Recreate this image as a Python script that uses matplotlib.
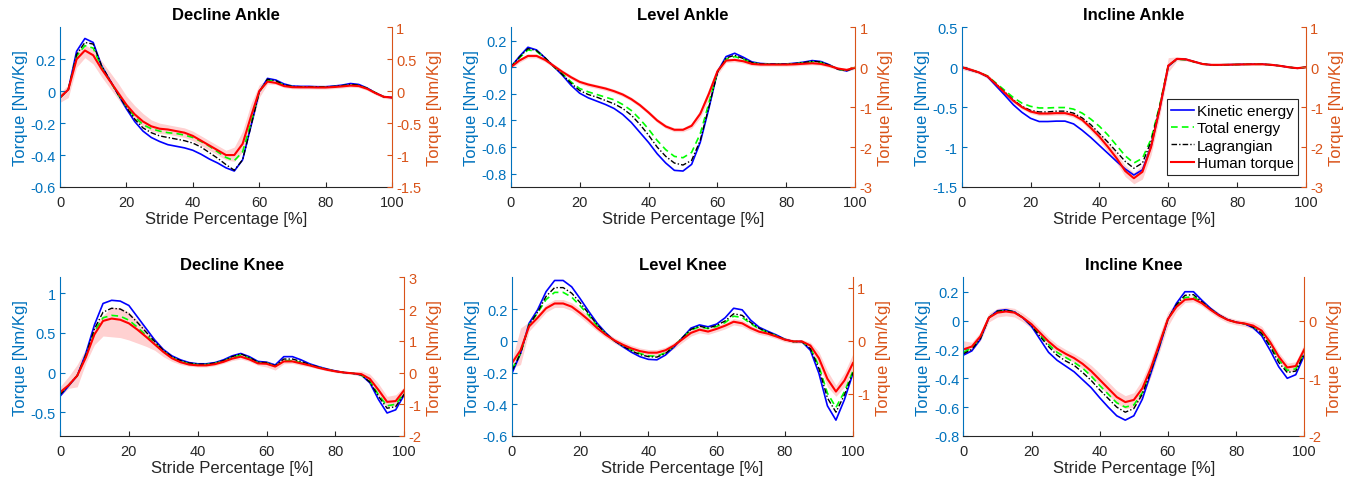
import numpy as np
import matplotlib
matplotlib.use('Agg')
import matplotlib.pyplot as plt
from matplotlib.ticker import FormatStrFormatter

plt.rcParams['font.family'] = ['Liberation Sans', 'DejaVu Sans']
plt.rcParams['axes.unicode_minus'] = False

# stride percentage grid (every 2.5 %)
STRIDE = np.arange(0, 100.1, 2.5)

# ---- Decline Ankle ----
DA_KE = [-0.04, 0.01, 0.25, 0.33, 0.305, 0.16, 0.07, -0.02, -0.11, -0.19, -0.25, -0.29, -0.315, -0.335, -0.345,
         -0.355, -0.37, -0.395, -0.425, -0.45, -0.48, -0.50, -0.43, -0.22, -0.005, 0.08, 0.07, 0.045, 0.032, 0.03,
         0.03, 0.028, 0.028, 0.032, 0.038, 0.048, 0.042, 0.02, -0.01, -0.035, -0.04]
DA_TE = [-0.04, 0.01, 0.22, 0.285, 0.27, 0.15, 0.065, -0.02, -0.095, -0.16, -0.21, -0.235, -0.25, -0.26, -0.265,
         -0.275, -0.29, -0.315, -0.345, -0.38, -0.415, -0.435, -0.38, -0.20, -0.005, 0.07, 0.06, 0.038, 0.028, 0.026,
         0.026, 0.025, 0.025, 0.028, 0.033, 0.04, 0.036, 0.017, -0.01, -0.035, -0.04]
DA_LAG = [-0.04, 0.01, 0.23, 0.305, 0.295, 0.16, 0.07, -0.02, -0.10, -0.175, -0.23, -0.26, -0.28, -0.29, -0.30,
          -0.31, -0.325, -0.35, -0.385, -0.42, -0.46, -0.495, -0.43, -0.22, -0.005, 0.075, 0.065, 0.04, 0.03, 0.028,
          0.028, 0.027, 0.027, 0.03, 0.035, 0.043, 0.038, 0.018, -0.01, -0.035, -0.04]
DA_HUM = [-0.04, 0.01, 0.20, 0.255, 0.225, 0.14, 0.065, -0.01, -0.085, -0.145, -0.19, -0.22, -0.235, -0.24, -0.25,
          -0.26, -0.28, -0.31, -0.34, -0.37, -0.40, -0.40, -0.33, -0.16, 0.0, 0.06, 0.052, 0.032, 0.025, 0.024,
          0.024, 0.023, 0.023, 0.026, 0.03, 0.035, 0.032, 0.015, -0.012, -0.035, -0.04]
DA_LO = [-0.07, -0.04, 0.15, 0.21, 0.17, 0.09, 0.02, -0.05, -0.12, -0.18, -0.22, -0.25, -0.265, -0.27, -0.28,
         -0.29, -0.31, -0.34, -0.37, -0.40, -0.43, -0.44, -0.38, -0.23, -0.04, 0.045, 0.042, 0.022, 0.015, 0.014,
         0.014, 0.013, 0.013, 0.016, 0.02, 0.025, 0.022, 0.005, -0.022, -0.045, -0.05]
DA_HI = [-0.01, 0.04, 0.25, 0.29, 0.26, 0.19, 0.12, 0.05, -0.03, -0.09, -0.14, -0.18, -0.20, -0.21, -0.22,
         -0.23, -0.25, -0.28, -0.31, -0.34, -0.37, -0.35, -0.25, -0.08, 0.04, 0.075, 0.062, 0.042, 0.035, 0.034,
         0.034, 0.033, 0.033, 0.036, 0.04, 0.045, 0.042, 0.025, -0.002, -0.025, -0.03]

# ---- Level Ankle ----
LA_KE = [0.0, 0.08, 0.15, 0.13, 0.07, 0.005, -0.06, -0.135, -0.195, -0.23, -0.255, -0.28, -0.31, -0.355, -0.415,
         -0.49, -0.565, -0.65, -0.72, -0.775, -0.78, -0.73, -0.565, -0.31, -0.035, 0.08, 0.105, 0.075, 0.04, 0.028,
         0.025, 0.025, 0.025, 0.03, 0.038, 0.05, 0.043, 0.018, -0.015, -0.028, -0.003]
LA_TE = [0.0, 0.07, 0.13, 0.12, 0.065, 0.005, -0.05, -0.11, -0.16, -0.185, -0.205, -0.225, -0.245, -0.28, -0.325,
         -0.39, -0.465, -0.55, -0.62, -0.67, -0.68, -0.64, -0.50, -0.27, -0.035, 0.06, 0.08, 0.06, 0.033, 0.024,
         0.022, 0.022, 0.022, 0.026, 0.033, 0.04, 0.036, 0.014, -0.015, -0.025, -0.003]
LA_LAG = [0.0, 0.075, 0.14, 0.125, 0.07, 0.005, -0.055, -0.12, -0.175, -0.205, -0.225, -0.25, -0.275, -0.31, -0.36,
          -0.43, -0.51, -0.60, -0.67, -0.72, -0.735, -0.70, -0.55, -0.30, -0.04, 0.07, 0.09, 0.065, 0.035, 0.025,
          0.023, 0.023, 0.023, 0.028, 0.035, 0.045, 0.04, 0.015, -0.015, -0.025, -0.003]
LA_HUM = [0.0, 0.05, 0.085, 0.085, 0.055, 0.01, -0.035, -0.075, -0.11, -0.13, -0.145, -0.16, -0.18, -0.205, -0.24,
          -0.285, -0.34, -0.40, -0.445, -0.47, -0.47, -0.44, -0.35, -0.20, -0.03, 0.05, 0.055, 0.045, 0.025, 0.02,
          0.02, 0.02, 0.02, 0.022, 0.026, 0.03, 0.025, 0.01, -0.01, -0.02, -0.003]
LA_LO = [-0.015, 0.035, 0.07, 0.07, 0.04, -0.005, -0.05, -0.09, -0.125, -0.145, -0.16, -0.175, -0.195, -0.22, -0.255,
         -0.30, -0.355, -0.415, -0.46, -0.485, -0.485, -0.46, -0.38, -0.24, -0.06, 0.035, 0.04, 0.03, 0.012, 0.008,
         0.008, 0.008, 0.008, 0.01, 0.014, 0.018, 0.013, -0.002, -0.022, -0.032, -0.015]
LA_HI = [0.015, 0.065, 0.10, 0.10, 0.07, 0.025, -0.02, -0.06, -0.095, -0.115, -0.13, -0.145, -0.165, -0.19, -0.225,
         -0.27, -0.325, -0.385, -0.43, -0.455, -0.455, -0.42, -0.32, -0.16, 0.0, 0.065, 0.07, 0.06, 0.038, 0.032,
         0.032, 0.032, 0.032, 0.034, 0.038, 0.042, 0.037, 0.022, 0.002, -0.008, 0.01]

# ---- Incline Ankle ----
IA_KE = [0.0, -0.035, -0.065, -0.12, -0.235, -0.35, -0.47, -0.565, -0.64, -0.68, -0.68, -0.675, -0.675, -0.71, -0.79,
         -0.88, -0.98, -1.08, -1.18, -1.275, -1.35, -1.285, -0.99, -0.52, 0.01, 0.105, 0.10, 0.07, 0.04, 0.03,
         0.03, 0.032, 0.035, 0.037, 0.038, 0.038, 0.03, 0.017, 0.0, -0.013, 0.0]
IA_TE = [0.0, -0.03, -0.065, -0.11, -0.20, -0.29, -0.38, -0.45, -0.49, -0.51, -0.51, -0.505, -0.505, -0.525, -0.575,
         -0.65, -0.74, -0.85, -0.98, -1.11, -1.20, -1.14, -0.90, -0.48, 0.02, 0.10, 0.095, 0.068, 0.04, 0.03,
         0.03, 0.032, 0.034, 0.036, 0.037, 0.037, 0.03, 0.017, 0.0, -0.012, 0.0]
IA_LAG = [0.0, -0.03, -0.065, -0.115, -0.21, -0.31, -0.41, -0.49, -0.54, -0.56, -0.56, -0.55, -0.55, -0.575, -0.635,
          -0.72, -0.83, -0.94, -1.06, -1.18, -1.265, -1.20, -0.93, -0.49, 0.02, 0.10, 0.095, 0.068, 0.04, 0.03,
          0.03, 0.032, 0.034, 0.036, 0.037, 0.037, 0.03, 0.017, 0.0, -0.012, 0.0]
IA_HUM = [0.0, -0.03, -0.065, -0.115, -0.215, -0.32, -0.42, -0.50, -0.555, -0.58, -0.58, -0.575, -0.575, -0.60, -0.66,
          -0.76, -0.87, -1.0, -1.14, -1.30, -1.39, -1.31, -1.0, -0.52, 0.02, 0.105, 0.10, 0.07, 0.04, 0.03,
          0.03, 0.032, 0.034, 0.036, 0.037, 0.037, 0.03, 0.017, 0.0, -0.012, 0.0]
IA_LO = [-0.03, -0.055, -0.085, -0.14, -0.24, -0.345, -0.445, -0.525, -0.58, -0.605, -0.605, -0.60, -0.60, -0.63, -0.69,
         -0.80, -0.92, -1.06, -1.20, -1.37, -1.46, -1.40, -1.10, -0.62, -0.06, 0.08, 0.08, 0.055, 0.028, 0.02,
         0.02, 0.022, 0.024, 0.026, 0.027, 0.027, 0.02, 0.007, -0.01, -0.022, -0.01]
IA_HI = [0.03, -0.005, -0.045, -0.09, -0.19, -0.295, -0.395, -0.475, -0.53, -0.555, -0.555, -0.55, -0.55, -0.57, -0.63,
         -0.72, -0.82, -0.94, -1.08, -1.23, -1.32, -1.22, -0.90, -0.42, 0.12, 0.13, 0.12, 0.085, 0.052, 0.04,
         0.04, 0.042, 0.044, 0.046, 0.047, 0.047, 0.04, 0.027, 0.01, -0.002, 0.01]

# ---- Decline Knee ----
DK_KE = [-0.30, -0.17, -0.04, 0.24, 0.60, 0.87, 0.91, 0.90, 0.845, 0.70, 0.555, 0.41, 0.29, 0.21, 0.16,
         0.125, 0.11, 0.11, 0.125, 0.16, 0.21, 0.24, 0.20, 0.14, 0.13, 0.095, 0.20, 0.20, 0.16, 0.11,
         0.075, 0.045, 0.02, 0.0, -0.01, -0.03, -0.13, -0.34, -0.51, -0.47, -0.28]
DK_TE = [-0.27, -0.16, -0.04, 0.21, 0.52, 0.69, 0.72, 0.71, 0.66, 0.57, 0.47, 0.37, 0.27, 0.19, 0.14,
         0.11, 0.10, 0.10, 0.115, 0.145, 0.19, 0.22, 0.18, 0.125, 0.12, 0.08, 0.15, 0.15, 0.125, 0.095,
         0.065, 0.04, 0.015, 0.0, -0.01, -0.03, -0.11, -0.28, -0.42, -0.40, -0.26]
DK_LAG = [-0.28, -0.16, -0.04, 0.22, 0.55, 0.76, 0.81, 0.80, 0.74, 0.63, 0.51, 0.39, 0.28, 0.20, 0.15,
          0.12, 0.105, 0.105, 0.12, 0.15, 0.20, 0.235, 0.19, 0.13, 0.125, 0.085, 0.17, 0.17, 0.14, 0.10,
          0.07, 0.04, 0.015, 0.0, -0.01, -0.03, -0.12, -0.30, -0.45, -0.43, -0.27]
DK_HUM = [-0.25, -0.16, -0.04, 0.19, 0.48, 0.65, 0.68, 0.665, 0.62, 0.54, 0.45, 0.355, 0.26, 0.18, 0.13,
          0.10, 0.09, 0.09, 0.105, 0.135, 0.175, 0.20, 0.165, 0.115, 0.11, 0.075, 0.14, 0.14, 0.115, 0.09,
          0.06, 0.035, 0.015, 0.0, -0.01, -0.02, -0.08, -0.22, -0.37, -0.36, -0.22]
DK_LO = [-0.30, -0.20, -0.18, 0.12, 0.35, 0.46, 0.45, 0.44, 0.41, 0.37, 0.33, 0.28, 0.20, 0.14, 0.10,
         0.08, 0.07, 0.07, 0.085, 0.115, 0.15, 0.17, 0.14, 0.09, 0.07, 0.03, 0.11, 0.115, 0.09, 0.07,
         0.045, 0.02, 0.0, -0.015, -0.025, -0.05, -0.14, -0.30, -0.43, -0.42, -0.25]
DK_HI = [-0.18, -0.05, 0.10, 0.30, 0.60, 0.72, 0.82, 0.82, 0.76, 0.66, 0.55, 0.43, 0.31, 0.22, 0.16,
         0.125, 0.11, 0.11, 0.125, 0.155, 0.20, 0.23, 0.20, 0.14, 0.15, 0.11, 0.17, 0.165, 0.14, 0.11,
         0.075, 0.05, 0.03, 0.015, 0.01, 0.02, -0.02, -0.14, -0.30, -0.28, -0.18]

# ---- Level Knee ----
LK_KE = [-0.205, -0.08, 0.11, 0.195, 0.31, 0.38, 0.38, 0.34, 0.265, 0.185, 0.11, 0.05, 0.0, -0.037, -0.072,
         -0.10, -0.117, -0.12, -0.09, -0.04, 0.02, 0.08, 0.10, 0.088, 0.105, 0.145, 0.205, 0.195, 0.13, 0.085,
         0.06, 0.037, 0.01, -0.005, -0.005, -0.06, -0.205, -0.41, -0.50, -0.37, -0.205]
LK_TE = [-0.18, -0.08, 0.10, 0.175, 0.26, 0.305, 0.305, 0.275, 0.22, 0.16, 0.095, 0.043, 0.0, -0.03, -0.058,
         -0.08, -0.095, -0.097, -0.075, -0.033, 0.018, 0.068, 0.088, 0.077, 0.09, 0.115, 0.155, 0.147, 0.108, 0.075,
         0.053, 0.032, 0.008, -0.005, -0.005, -0.045, -0.16, -0.33, -0.42, -0.32, -0.19]
LK_LAG = [-0.19, -0.08, 0.10, 0.18, 0.28, 0.335, 0.335, 0.30, 0.24, 0.17, 0.10, 0.045, 0.0, -0.033, -0.063,
          -0.087, -0.10, -0.103, -0.08, -0.035, 0.02, 0.072, 0.092, 0.08, 0.097, 0.125, 0.17, 0.16, 0.115, 0.078,
          0.055, 0.033, 0.008, -0.005, -0.005, -0.05, -0.175, -0.36, -0.45, -0.34, -0.20]
LK_HUM = [-0.14, -0.06, 0.09, 0.145, 0.205, 0.235, 0.235, 0.215, 0.175, 0.13, 0.08, 0.038, 0.003, -0.025, -0.048,
          -0.065, -0.075, -0.075, -0.06, -0.03, 0.01, 0.05, 0.07, 0.058, 0.075, 0.095, 0.12, 0.11, 0.08, 0.057,
          0.045, 0.027, 0.007, -0.004, -0.004, -0.03, -0.11, -0.24, -0.32, -0.25, -0.14]
LK_LO = [-0.17, -0.15, 0.06, 0.12, 0.18, 0.21, 0.21, 0.19, 0.15, 0.105, 0.06, 0.02, -0.015, -0.045, -0.068,
         -0.085, -0.095, -0.095, -0.08, -0.05, -0.01, 0.03, 0.05, 0.04, 0.057, 0.075, 0.10, 0.09, 0.062, 0.04,
         0.03, 0.013, -0.007, -0.016, -0.016, -0.05, -0.15, -0.29, -0.35, -0.29, -0.19]
LK_HI = [-0.12, 0.08, 0.12, 0.17, 0.23, 0.26, 0.26, 0.24, 0.20, 0.155, 0.10, 0.056, 0.02, -0.005, -0.028,
         -0.045, -0.055, -0.055, -0.04, -0.01, 0.03, 0.07, 0.09, 0.076, 0.093, 0.115, 0.14, 0.13, 0.098, 0.074,
         0.06, 0.041, 0.021, 0.008, 0.008, -0.01, -0.07, -0.19, -0.28, -0.20, -0.08]

# ---- Incline Knee ----
IK_KE = [-0.24, -0.21, -0.13, 0.02, 0.068, 0.075, 0.06, 0.018, -0.04, -0.13, -0.22, -0.275, -0.315, -0.355, -0.41,
         -0.465, -0.535, -0.60, -0.66, -0.69, -0.66, -0.545, -0.365, -0.185, 0.007, 0.12, 0.20, 0.20, 0.14, 0.085,
         0.04, 0.007, -0.011, -0.022, -0.05, -0.105, -0.207, -0.32, -0.40, -0.375, -0.24]
IK_TE = [-0.22, -0.19, -0.12, 0.02, 0.062, 0.07, 0.058, 0.02, -0.03, -0.10, -0.165, -0.22, -0.255, -0.29, -0.33,
         -0.385, -0.45, -0.51, -0.57, -0.60, -0.585, -0.50, -0.34, -0.17, 0.01, 0.10, 0.16, 0.165, 0.125, 0.078,
         0.036, 0.005, -0.012, -0.022, -0.042, -0.085, -0.17, -0.27, -0.345, -0.335, -0.22]
IK_LAG = [-0.23, -0.20, -0.125, 0.02, 0.065, 0.072, 0.06, 0.02, -0.035, -0.11, -0.18, -0.24, -0.28, -0.31, -0.36,
          -0.415, -0.48, -0.54, -0.60, -0.635, -0.61, -0.51, -0.35, -0.175, 0.01, 0.11, 0.175, 0.18, 0.13, 0.08,
          0.038, 0.006, -0.012, -0.022, -0.045, -0.09, -0.18, -0.29, -0.36, -0.35, -0.23]
IK_HUM = [-0.20, -0.18, -0.11, 0.02, 0.055, 0.063, 0.055, 0.02, -0.025, -0.085, -0.145, -0.195, -0.23, -0.26, -0.30,
          -0.35, -0.41, -0.47, -0.53, -0.565, -0.55, -0.47, -0.33, -0.16, 0.01, 0.095, 0.145, 0.15, 0.12, 0.075,
          0.035, 0.005, -0.012, -0.02, -0.035, -0.07, -0.15, -0.25, -0.325, -0.315, -0.20]
IK_LO = [-0.23, -0.21, -0.14, -0.01, 0.025, 0.033, 0.025, -0.01, -0.055, -0.115, -0.175, -0.225, -0.26, -0.29, -0.335,
         -0.39, -0.455, -0.515, -0.575, -0.61, -0.60, -0.53, -0.39, -0.22, -0.04, 0.065, 0.125, 0.13, 0.10, 0.055,
         0.015, -0.015, -0.03, -0.04, -0.06, -0.10, -0.18, -0.28, -0.355, -0.345, -0.24]
IK_HI = [-0.14, -0.15, -0.08, 0.05, 0.085, 0.093, 0.085, 0.05, 0.005, -0.055, -0.115, -0.165, -0.20, -0.23, -0.265,
         -0.31, -0.365, -0.425, -0.485, -0.52, -0.50, -0.41, -0.27, -0.10, 0.06, 0.125, 0.165, 0.17, 0.14, 0.095,
         0.055, 0.025, 0.008, 0.0, -0.01, -0.04, -0.12, -0.22, -0.295, -0.285, -0.16]

LEFT_BLUE = '#0072BD'
RIGHT_ORANGE = '#D95319'
AX_GRAY = '#262626'

FIG_W, FIG_H = 1359, 489

# title, data, left ylim, left ticks, right ylim, right ticks, pixel box (left, top, right, bottom)
PANELS = [
    ('Decline Ankle', (DA_KE, DA_TE, DA_LAG, DA_HUM, DA_LO, DA_HI), (-0.6, 0.4), [-0.6, -0.4, -0.2, 0, 0.2],
     (-1.5, 1), [-1.5, -1, -0.5, 0, 0.5, 1], (60, 28.3, 392, 188)),
    ('Level Ankle', (LA_KE, LA_TE, LA_LAG, LA_HUM, LA_LO, LA_HI), (-0.9, 0.3), [-0.8, -0.6, -0.4, -0.2, 0, 0.2],
     (-3, 1), [-3, -2, -1, 0, 1], (510.7, 28.3, 855.3, 188)),
    ('Incline Ankle', (IA_KE, IA_TE, IA_LAG, IA_HUM, IA_LO, IA_HI), (-1.5, 0.5), [-1.5, -1, -0.5, 0, 0.5],
     (-3, 1), [-3, -2, -1, 0, 1], (961.7, 28.3, 1306, 188)),
    ('Decline Knee', (DK_KE, DK_TE, DK_LAG, DK_HUM, DK_LO, DK_HI), (-0.8, 1.2), [-0.5, 0, 0.5, 1],
     (-2, 3), [-2, -1, 0, 1, 2, 3], (60, 278.3, 404.3, 437)),
    ('Level Knee', (LK_KE, LK_TE, LK_LAG, LK_HUM, LK_LO, LK_HI), (-0.6, 0.4), [-0.6, -0.4, -0.2, 0, 0.2],
     (-1.8, 1.2), [-1, 0, 1], (512, 278.3, 853, 437)),
    ('Incline Knee', (IK_KE, IK_TE, IK_LAG, IK_HUM, IK_LO, IK_HI), (-0.8, 0.3), [-0.8, -0.6, -0.4, -0.2, 0, 0.2],
     (-2, 0.75), [-2, -1, 0], (963.3, 278.3, 1304.3, 437)),
]


def draw_panel(fig, title, data, ylim, yticks, rlim, rticks, box):
    left, top, right, bottom = box
    ax = fig.add_axes([left / FIG_W, 1 - bottom / FIG_H, (right - left) / FIG_W, (bottom - top) / FIG_H])
    ke, te, lag, hum, lo, hi = data

    ax.fill_between(STRIDE, lo, hi, color='#FF0000', alpha=0.18, lw=0)
    ax.plot(STRIDE, ke, color='#0000FF', lw=1.2, label='Kinetic energy')
    ax.plot(STRIDE, te, color='#00FF00', lw=1.2, ls=(0, (4, 2.5)), label='Total energy')
    ax.plot(STRIDE, lag, color='black', lw=1.0, ls=(0, (4, 1.5, 1, 1.5)), label='Lagrangian')
    ax.plot(STRIDE, hum, color='#FF0000', lw=1.5, label='Human torque')

    ax.set_xlim(0, 100)
    ax.set_xticks([0, 20, 40, 60, 80, 100])
    ax.set_ylim(*ylim)
    ax.set_yticks(yticks)
    ax.yaxis.set_major_formatter(FormatStrFormatter('%g'))
    ax.set_xlabel('Stride Percentage [%]', fontsize=12, color=AX_GRAY, labelpad=1)
    ax.set_ylabel('Torque [Nm/Kg]', fontsize=12, color=LEFT_BLUE, labelpad=2)
    ax.set_title(title, fontsize=12, fontweight='bold', pad=6)

    for side in ('top', 'right'):
        ax.spines[side].set_visible(False)
    ax.spines['left'].set_color(LEFT_BLUE)
    ax.spines['bottom'].set_color(AX_GRAY)
    ax.tick_params(axis='x', direction='in', length=3.5, colors=AX_GRAY, labelsize=10.5, pad=6)
    ax.tick_params(axis='y', direction='in', length=3.5, colors=LEFT_BLUE, labelsize=10.5, pad=3)

    ax2 = ax.twinx()
    ax2.set_ylim(*rlim)
    ax2.set_yticks(rticks)
    ax2.yaxis.set_major_formatter(FormatStrFormatter('%g'))
    for side in ('top', 'left', 'bottom'):
        ax2.spines[side].set_visible(False)
    ax2.spines['right'].set_color(RIGHT_ORANGE)
    ax2.tick_params(axis='y', direction='in', length=3.5, colors=RIGHT_ORANGE, labelsize=10.5, pad=3)
    ax2.set_ylabel('Torque [Nm/Kg]', fontsize=12, color=RIGHT_ORANGE, rotation=90, labelpad=4)
    return ax


fig = plt.figure(figsize=(FIG_W / 100, FIG_H / 100), dpi=100)
axes = [draw_panel(fig, *panel) for panel in PANELS]

leg = axes[2].legend(loc='upper right', bbox_to_anchor=(0.977, 0.548), fontsize=11,
                     handlelength=1.5, handletextpad=0.15, labelspacing=0.22, borderpad=0.3,
                     borderaxespad=0, fancybox=False, framealpha=1)
leg.get_frame().set_edgecolor(AX_GRAY)
leg.get_frame().set_linewidth(0.8)

fig.savefig('out.png', dpi=100)
